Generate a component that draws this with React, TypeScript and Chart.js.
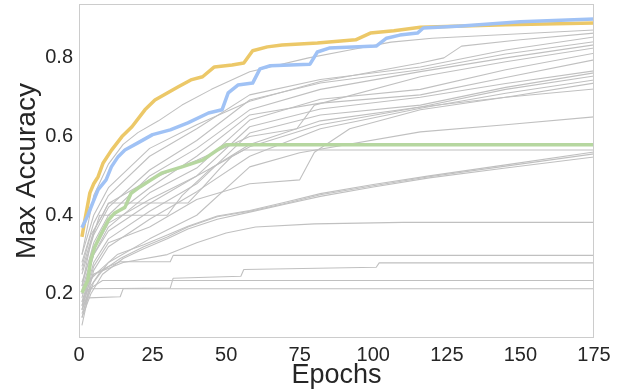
import React, { useEffect, useRef } from "react";
import { Chart, registerables } from "chart.js";

Chart.register(...registerables);

type P = [number, number];

// Highlighted runs: [epoch, max accuracy]
const yellowRun: P[] = [
  [1, 0.345], [2, 0.388], [3.7, 0.457], [5, 0.48], [6.5, 0.498], [8.2, 0.533], [11, 0.565],
  [14.6, 0.6], [18, 0.625], [22.4, 0.668], [25.8, 0.693], [30, 0.711], [33.6, 0.726], [38, 0.744],
  [42, 0.752], [46, 0.777], [52, 0.782], [56, 0.787], [59, 0.818], [64, 0.828], [69, 0.833],
  [81, 0.838], [94, 0.846], [99, 0.863], [107, 0.869], [116, 0.878], [145, 0.884], [175, 0.889],
];
const blueRun: P[] = [
  [1, 0.368], [3, 0.4], [4.8, 0.434], [6.5, 0.465], [9.2, 0.49], [11, 0.523], [13.3, 0.549],
  [15.6, 0.566], [20, 0.584], [25, 0.605], [31, 0.617], [37, 0.635], [44, 0.66], [48.6, 0.668],
  [50.7, 0.711], [54, 0.731], [59, 0.736], [61.5, 0.772], [65, 0.78], [78.5, 0.784], [81, 0.815],
  [85, 0.825], [101, 0.83], [104.5, 0.85], [109, 0.858], [115, 0.863], [117, 0.876], [130, 0.881],
  [150, 0.892], [175, 0.899],
];
const greenRun: P[] = [
  [1, 0.203], [3, 0.235], [4, 0.287], [5.4, 0.32], [7, 0.345], [10, 0.388], [12, 0.405],
  [15.6, 0.42], [17.7, 0.456], [20.7, 0.472], [24.5, 0.49], [28, 0.507], [35, 0.523], [42, 0.54],
  [48, 0.571], [50, 0.579], [175, 0.579],
];

// Other runs (gray)
const g1: P[] = [[1, 0.3], [5, 0.45], [10, 0.53], [15, 0.58], [20, 0.61], [27, 0.64], [35, 0.68], [45, 0.72], [58, 0.765], [78, 0.8], [92, 0.82], [106, 0.84], [120, 0.85], [175, 0.871]];
const c1: P[] = [[1, 0.3], [5, 0.4], [10, 0.47], [24, 0.57], [40, 0.63], [58, 0.69], [82, 0.74], [116, 0.787], [124, 0.8], [130, 0.83], [150, 0.846], [175, 0.863]];
const c2: P[] = [[1, 0.28], [5, 0.38], [10, 0.45], [24, 0.55], [40, 0.62], [58, 0.706], [82, 0.745], [116, 0.777], [145, 0.82], [175, 0.853]];
const c3: P[] = [[1, 0.25], [5, 0.35], [10, 0.42], [24, 0.515], [40, 0.59], [58, 0.693], [82, 0.736], [116, 0.77], [145, 0.81], [175, 0.841]];
const c4: P[] = [[1, 0.22], [5, 0.33], [10, 0.4], [24, 0.5], [40, 0.57], [58, 0.668], [82, 0.72], [116, 0.765], [145, 0.8], [175, 0.833]];
const c5: P[] = [[1, 0.26], [5, 0.36], [10, 0.43], [24, 0.49], [40, 0.54], [58, 0.6], [74, 0.62], [80, 0.68], [116, 0.752], [145, 0.79], [175, 0.825]];
const c6: P[] = [[1, 0.2], [5, 0.3], [10, 0.37], [24, 0.457], [40, 0.52], [58, 0.642], [82, 0.695], [116, 0.72], [145, 0.77], [175, 0.812]];
const c7: P[] = [[1, 0.23], [5, 0.32], [10, 0.39], [24, 0.47], [40, 0.55], [58, 0.655], [82, 0.685], [116, 0.706], [145, 0.75], [175, 0.795]];
const c8: P[] = [[1, 0.19], [5, 0.3], [10, 0.36], [24, 0.43], [40, 0.5], [58, 0.625], [82, 0.67], [116, 0.7], [145, 0.735], [175, 0.767]];
const c9: P[] = [[1, 0.17], [5, 0.28], [10, 0.34], [24, 0.41], [40, 0.48], [58, 0.609], [82, 0.655], [116, 0.68], [145, 0.725], [175, 0.762]];
const c10: P[] = [[1, 0.21], [5, 0.31], [10, 0.38], [24, 0.44], [40, 0.5], [58, 0.574], [82, 0.63], [116, 0.675], [145, 0.72], [175, 0.754]];
const c11: P[] = [[1, 0.14], [5, 0.26], [10, 0.32], [24, 0.39], [40, 0.46], [58, 0.55], [82, 0.62], [116, 0.672], [145, 0.71], [175, 0.744]];
const c12: P[] = [[1, 0.16], [5, 0.27], [10, 0.33], [24, 0.37], [40, 0.44], [58, 0.48], [75, 0.49], [80, 0.56], [92, 0.62], [116, 0.668], [145, 0.7], [175, 0.736]];
const c13: P[] = [[1, 0.22], [4, 0.33], [7, 0.4], [30, 0.4], [35, 0.45], [45, 0.52], [58, 0.58], [82, 0.64], [116, 0.675], [145, 0.7], [175, 0.721]];
const c14: P[] = [[1, 0.15], [5, 0.23], [10, 0.28], [24, 0.34], [40, 0.4], [58, 0.523], [75, 0.559], [116, 0.612], [145, 0.63], [175, 0.65]];
const g566: P[] = [[1, 0.27], [4, 0.35], [8, 0.4], [10, 0.431], [37, 0.431], [42, 0.47], [48, 0.52], [52, 0.55], [56, 0.566], [175, 0.566]];
const b1: P[] = [[1, 0.16], [4, 0.22], [7, 0.254], [14, 0.29], [22, 0.32], [30, 0.345], [37, 0.37], [47, 0.396], [58, 0.41], [70, 0.43], [82, 0.452], [100, 0.475], [119, 0.498], [145, 0.525], [175, 0.556]];
const b2: P[] = [[1, 0.14], [4, 0.2], [8, 0.25], [15, 0.29], [22, 0.315], [30, 0.34], [37, 0.365], [47, 0.39], [58, 0.408], [70, 0.428], [82, 0.448], [100, 0.472], [119, 0.495], [145, 0.52], [175, 0.548]];
const b3: P[] = [[1, 0.18], [3, 0.23], [7, 0.26], [13, 0.3], [22, 0.325], [30, 0.35], [37, 0.372], [47, 0.398], [58, 0.412], [70, 0.433], [82, 0.455], [100, 0.478], [119, 0.5], [145, 0.528], [175, 0.561]];
const f382: P[] = [[1, 0.2], [5, 0.25], [15, 0.28], [30, 0.3], [40, 0.33], [50, 0.355], [60, 0.37], [80, 0.378], [110, 0.382], [175, 0.382]];
const f298: P[] = [[1, 0.18], [5, 0.25], [10, 0.27], [14, 0.282], [31, 0.282], [32, 0.298], [175, 0.298]];
const f279: P[] = [[1, 0.16], [4, 0.213], [31, 0.215], [32, 0.24], [55, 0.245], [56, 0.262], [101, 0.268], [102, 0.279], [175, 0.279]];
const f234: P[] = [[1, 0.17], [3, 0.21], [8, 0.234], [175, 0.234]];
const f213: P[] = [[1, 0.12], [3, 0.19], [14, 0.193], [15, 0.213], [175, 0.213]];

const grayRuns: P[][] = [g1, c1, c2, c3, c4, c5, c6, c7, c8, c9, c10, c11, c12, c13, c14, g566, b1, b2, b3, f382, f298, f279, f234, f213];

const xTicks = [0, 25, 50, 75, 100, 125, 150, 175];
const yTicks = [0.2, 0.4, 0.6, 0.8];

const YELLOW = "rgb(236,200,104)";
const BLUE = "rgb(160,194,245)";
const GREEN = "rgb(182,215,160)";
const GRAY = "rgb(192,192,192)";
const TEXT = "#262626";
const FONT = "'Liberation Sans', Arial, sans-serif";

const toXY = (run: P[]) => run.map(([x, y]) => ({ x, y }));

const boxPlugin = {
  id: "boxFrame",
  afterDraw(chart: any) {
    const { ctx, chartArea: a } = chart;
    ctx.save();
    ctx.strokeStyle = "rgb(204,204,204)";
    ctx.lineWidth = 1;
    ctx.strokeRect(Math.round(a.left) + 0.5, Math.round(a.top) + 0.5, Math.round(a.right - a.left) - 1, Math.round(a.bottom - a.top) - 1);
    ctx.restore();
  },
};

export default function App() {
  const ref = useRef<HTMLCanvasElement | null>(null);
  useEffect(() => {
    document.body.style.margin = "0";
    if (!ref.current) return;
    const highlight = [
      { data: toXY(blueRun), borderColor: BLUE, borderWidth: 3.5 },
      { data: toXY(yellowRun), borderColor: YELLOW, borderWidth: 3.5 },
      { data: toXY(greenRun), borderColor: GREEN, borderWidth: 3.5 },
    ];
    const grays = grayRuns.map((r) => ({ data: toXY(r), borderColor: GRAY, borderWidth: 1.1 }));
    const chart = new Chart(ref.current, {
      type: "line",
      data: {
        datasets: [...highlight, ...grays].map((d) => ({
          ...d,
          pointRadius: 0,
          tension: 0,
          fill: false,
          borderJoinStyle: "round" as const,
        })),
      },
      options: {
        responsive: false,
        animation: false,
        layout: { padding: { top: 4, right: 29, left: 0, bottom: 0 } },
        plugins: { legend: { display: false }, tooltip: { enabled: false } },
        scales: {
          x: {
            type: "linear",
            min: 0,
            max: 175,
            afterBuildTicks: (s: any) => { s.ticks = xTicks.map((v) => ({ value: v })); },
            afterFit: (s: any) => { s.height = 54; s.paddingLeft = 0; s.paddingRight = 0; },
            grid: { display: false, drawTicks: false },
            border: { display: false },
            ticks: { color: TEXT, font: { family: FONT, size: 20 }, padding: 5, maxRotation: 0, callback: (v: any) => String(v) },
            title: { display: true, text: "Epochs", color: TEXT, font: { family: FONT, size: 27 }, padding: { top: 0, bottom: 0 } },
          },
          y: {
            type: "linear",
            min: 0.088,
            max: 0.937,
            afterBuildTicks: (s: any) => { s.ticks = yTicks.map((v) => ({ value: v })); },
            afterFit: (s: any) => { s.width = 79; s.paddingTop = 0; s.paddingBottom = 0; },
            grid: { display: false, drawTicks: false },
            border: { display: false },
            ticks: { color: TEXT, font: { family: FONT, size: 20 }, padding: 6, callback: (v: any) => Number(v).toFixed(1) },
            title: { display: true, text: "Max Accuracy", color: TEXT, font: { family: FONT, size: 28 }, padding: { top: 10, bottom: 0 } },
          },
        },
      },
      plugins: [boxPlugin],
    });
    return () => chart.destroy();
  }, []);
  return <canvas ref={ref} width={623} height={392} style={{ display: "block" }} />;
}
